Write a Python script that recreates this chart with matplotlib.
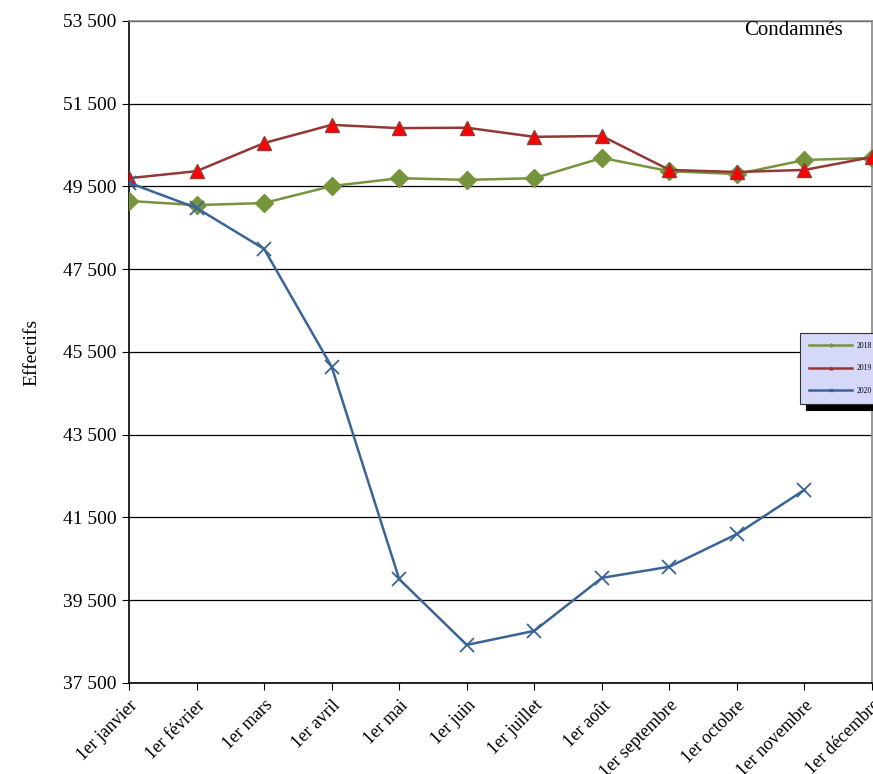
import matplotlib
matplotlib.use("Agg")
import matplotlib.pyplot as plt
from matplotlib.ticker import FuncFormatter

plt.rcParams["font.family"] = ["Liberation Serif", "DejaVu Serif"]

months = ["1er janvier", "1er février", "1er mars", "1er avril", "1er mai",
          "1er juin", "1er juillet", "1er août", "1er septembre",
          "1er octobre", "1er novembre", "1er décembre"]
s2018 = [49150, 49050, 49100, 49510, 49700, 49660, 49700, 50190, 49870,
         49800, 50140, 50190]
s2019 = [49700, 49870, 50550, 50990, 50910, 50920, 50700, 50720, 49900,
         49850, 49900, 50210]
s2020 = [49590, 48980, 47990, 45140, 40010, 38420, 38760, 40040, 40310,
         41100, 42170]
yticks = list(range(37500, 53501, 2000))

fig = plt.figure(figsize=(8.73, 7.74), dpi=100)
ax = fig.add_axes([0.1478, 0.1176, 0.8511, 0.8553])

x = list(range(len(months)))
ax.plot(x, s2018, color="#77933c", lw=1.8, marker="D", ms=9,
        mfc="#77933c", mec="#77933c", label="2018", zorder=3)
ax.plot(x, s2019, color="#953735", lw=1.8, marker="^", ms=10,
        mfc="#ff0000", mec="#953735", label="2019", zorder=4)
ax.plot(x[:len(s2020)], s2020, color="#3a6496", lw=1.8, marker="x",
        ms=10, mew=1.3, label="2020", zorder=5)

ax.set_xlim(0, 11)
ax.set_ylim(37500, 53500)
ax.set_yticks(yticks)
ax.yaxis.set_major_formatter(FuncFormatter(lambda v, p: f"{int(v):,}".replace(",", " ")))
ax.set_xticks(x)
ax.set_xticklabels(months, rotation=45, ha="right", rotation_mode="anchor", fontsize=13)
ax.tick_params(axis="y", labelsize=14, length=5, direction="out", pad=4)
ax.tick_params(axis="x", length=5, direction="out", pad=5)
ax.grid(axis="y", color="black", lw=0.9)
ax.set_axisbelow(True)
for side in ("left", "bottom"):
    ax.spines[side].set_color("black")
    ax.spines[side].set_linewidth(1.2)
for side in ("top", "right"):
    ax.spines[side].set_color("#888888")
    ax.spines[side].set_linewidth(1.2)

ax.set_ylabel("Effectifs", fontsize=14, labelpad=16)
ax.text(0.894, 0.985, "Condamnés", transform=ax.transAxes, ha="center",
        va="center", fontsize=15)

leg = fig.legend(loc="upper left", bbox_to_anchor=(0.912, 0.575),
                 fontsize=5.5, markerscale=0.2, handlelength=5.6,
                 labelspacing=1.9, borderpad=1.2, handletextpad=0.6,
                 fancybox=False, facecolor="#d6d8fa",
                 edgecolor="#333333", framealpha=1,
                 shadow={"color": "black", "alpha": 1, "ox": 4, "oy": -4})
leg.get_frame().set_linewidth(0.8)

fig.savefig("out.png", dpi=100)
